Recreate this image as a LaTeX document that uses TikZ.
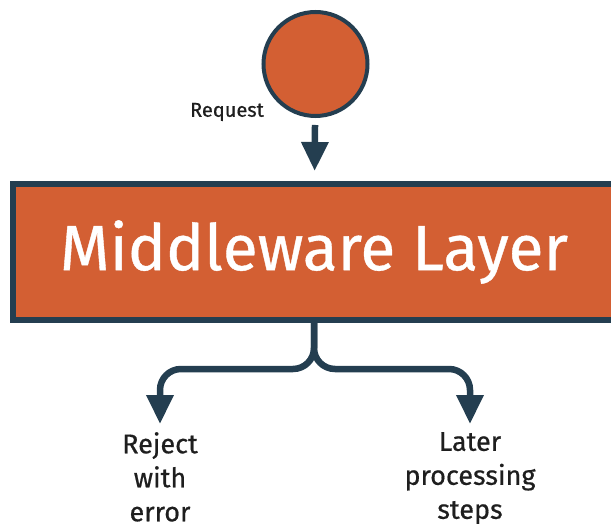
\documentclass[tikz,border=0pt]{standalone}
\usepackage{fontspec}
\setmainfont{Fira Sans}
\newfontfamily\medfont{Fira Sans}[FakeBold=0.6]
\usepackage{tikz}
\usetikzlibrary{arrows.meta,positioning}
\definecolor{rustorange}{RGB}{211,95,51}
\definecolor{navyline}{RGB}{36,62,80}
\definecolor{darktext}{RGB}{30,30,30}
\tikzset{
  reqdot/.style={circle, draw=navyline, line width=4pt, fill=rustorange,
                 minimum size=104pt, inner sep=0pt},
  layer/.style={rectangle, draw=navyline, line width=6pt, fill=rustorange,
                minimum width=602pt, minimum height=136pt, text=white,
                font=\medfont\fontsize{64}{64}\selectfont},
  flow/.style={-{Triangle[length=29pt,width=26pt]}, line width=6.5pt, navyline},
  outlabel/.style={font=\medfont\fontsize{27}{34}\selectfont, align=center, text=darktext,
                   anchor=north, inner sep=2pt},
  smalllabel/.style={font=\medfont\fontsize{20}{24}\selectfont, text=darktext},
}
\begin{document}
\begin{tikzpicture}[x=1pt,y=-1pt]
\useasboundingbox (0,0) rectangle (611,524);
\clip (0,0) rectangle (611,524);
\node[reqdot] (req) at (315.5,64) {};
\node[smalllabel] (reqlabel) at (227,112) {Request};
\node[layer] (mw) at (314,252) {Middleware Layer};
\coordinate (fork) at (314,369);
\node[outlabel] (reject) at (160,430) {Reject\\with\\error};
\node[outlabel] (later) at (470,430) {Later\\processing\\steps};
\draw[flow, shorten <=7pt, shorten >=10pt] (req) -- (mw);
\draw[flow, rounded corners=21pt, shorten >=6pt] (mw.south) -- (fork) -| (reject.north);
\draw[flow, rounded corners=21pt, shorten >=6pt] (mw.south) -- (fork) -| (later.north);
\end{tikzpicture}
\end{document}
